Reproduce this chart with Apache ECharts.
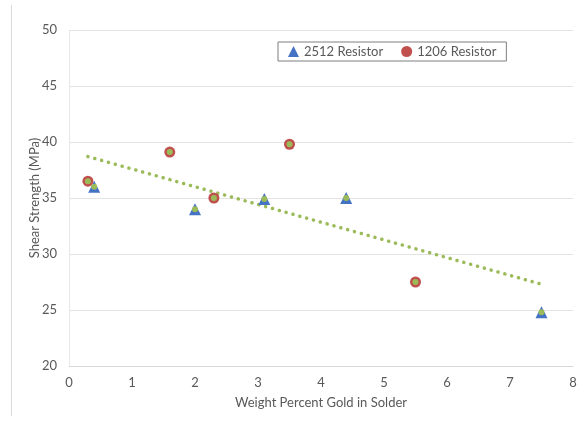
<!DOCTYPE html>
<html>
<head>
<meta charset="utf-8">
<script src="https://cdn.jsdelivr.net/npm/echarts@6/dist/echarts.min.js"></script>
<style>
  html, body { margin: 0; padding: 0; background: #fff; }
  #chart { width: 584px; height: 421px; }
</style>
</head>
<body>
<div id="chart"></div>
<script>
// 2512 resistor points (weight % gold, shear strength MPa)
const r2512X = [0.4, 2.0, 3.1, 4.4, 7.5];
const r2512Y = [36.0, 34.0, 34.9, 35.0, 24.8];
// 1206 resistor points
const r1206X = [0.3, 1.6, 2.3, 3.5, 5.5];
const r1206Y = [36.5, 39.1, 35.0, 39.8, 27.5];
// linear trendline end points
const trendX = [0.3, 7.5];
const trendY = [38.7, 27.3];

const xTicks = [0, 1, 2, 3, 4, 5, 6, 7, 8];
const yTicks = [20, 25, 30, 35, 40, 45, 50];

const pairs = (xs, ys) => xs.map((x, i) => [x, ys[i]]);

const font = 'Lato, sans-serif';
const gray = '#595959';

const chart = echarts.init(document.getElementById('chart'));

chart.setOption({
  animation: false,
  textStyle: { fontFamily: font },
  grid: { left: 69, right: 11, top: 30, bottom: 55 },
  legend: {
    top: 42,
    left: 278,
    padding: [3, 10, 3, 10],
    borderColor: '#7f7f7f',
    borderWidth: 1,
    itemWidth: 11,
    itemHeight: 11,
    itemGap: 18,
    textStyle: { color: gray, fontSize: 13, fontFamily: font },
    data: ['2512 Resistor', '1206 Resistor']
  },
  xAxis: {
    type: 'value',
    min: xTicks[0],
    max: xTicks[xTicks.length - 1],
    interval: 1,
    name: 'Weight Percent Gold in Solder',
    nameLocation: 'middle',
    nameGap: 30,
    nameTextStyle: { color: gray, fontSize: 13 },
    axisLine: { lineStyle: { color: '#d9d9d9' } },
    axisTick: { show: false },
    axisLabel: { color: gray, fontSize: 13, margin: 10 },
    splitLine: { show: false }
  },
  yAxis: {
    type: 'value',
    min: yTicks[0],
    max: yTicks[yTicks.length - 1],
    interval: 5,
    name: 'Shear Strength (MPa)',
    nameLocation: 'middle',
    nameGap: 28,
    nameMoveOverlap: false,
    nameTextStyle: { color: gray, fontSize: 13 },
    axisLine: { show: true, lineStyle: { color: '#e8e8e8' } },
    axisTick: { show: false },
    axisLabel: { color: gray, fontSize: 13, margin: 12 },
    splitLine: { lineStyle: { color: '#e3e3e3' } }
  },
  graphic: [
    {
      type: 'line',
      shape: { x1: 11.5, y1: 5, x2: 11.5, y2: 416 },
      style: { stroke: '#d9d9d9', lineWidth: 1 }
    }
  ],
  series: [
    {
      name: 'Trend',
      type: 'line',
      data: pairs(trendX, trendY),
      showSymbol: false,
      silent: true,
      lineStyle: { color: '#9bbb59', width: 3.5, type: [0.1, 7], cap: 'round' },
      z: 1
    },
    {
      name: '2512 Resistor',
      type: 'scatter',
      symbol: 'triangle',
      symbolSize: 12,
      data: pairs(r2512X, r2512Y),
      itemStyle: { color: '#4472c4', opacity: 1 },
      z: 3
    },
    {
      name: '1206 Resistor',
      type: 'scatter',
      symbol: 'circle',
      symbolSize: 11,
      data: pairs(r1206X, r1206Y),
      itemStyle: { color: '#c0504d', opacity: 1 },
      z: 3
    },
    {
      name: 'All',
      type: 'scatter',
      symbol: 'circle',
      symbolSize: 6,
      silent: true,
      data: pairs(r2512X, r2512Y).concat(pairs(r1206X, r1206Y)),
      itemStyle: { color: '#9bbb59', opacity: 1 },
      z: 4
    }
  ]
});
</script>
</body>
</html>
